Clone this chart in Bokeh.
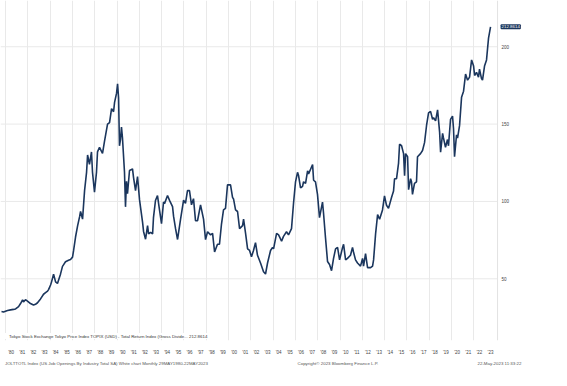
from bokeh.plotting import figure
from bokeh.layouts import column
from bokeh.models import Range1d, FixedTicker, CustomJSTickFormatter, Legend, LegendItem, Label, Span
from bokeh.core.properties import value
from bokeh.embed import file_html
from bokeh.resources import INLINE

# --- data ---
years = [1979.64, 1979.82, 1980.18, 1980.45, 1980.72, 1980.90, 1981.17, 1981.35, 1981.53, 1981.61,
         1981.79, 1981.97, 1982.24, 1982.51, 1982.69, 1982.87, 1983.14, 1983.41, 1983.59, 1983.77,
         1983.86, 1984.04, 1984.13, 1984.31, 1984.49, 1984.66, 1984.93, 1985.11, 1985.20, 1985.38,
         1985.65, 1985.83, 1986.01, 1986.10, 1986.28, 1986.46, 1986.64, 1986.73, 1986.91, 1987.09,
         1987.27, 1987.36, 1987.53, 1987.71, 1987.80, 1987.98, 1988.16, 1988.25, 1988.43, 1988.70,
         1988.88, 1989.15, 1989.33, 1989.51, 1989.69, 1989.78, 1989.96, 1990.05, 1990.14, 1990.22,
         1990.31, 1990.40, 1990.49, 1990.67, 1990.76, 1990.85, 1990.94, 1991.12, 1991.39, 1991.48,
         1991.66, 1991.84, 1992.02, 1992.29, 1992.38, 1992.56, 1992.74, 1992.83, 1993.01, 1993.19,
         1993.27, 1993.45, 1993.63, 1993.81, 1993.99, 1994.17, 1994.26, 1994.53, 1994.71, 1994.98,
         1995.07, 1995.25, 1995.43, 1995.70, 1995.97, 1996.14, 1996.32, 1996.50, 1996.68, 1996.86,
         1997.04, 1997.22, 1997.49, 1997.76, 1997.94, 1998.12, 1998.39, 1998.57, 1998.75, 1999.01,
         1999.19, 1999.37, 1999.55, 1999.73, 1999.91, 2000.18, 2000.36, 2000.45, 2000.63, 2000.81,
         2000.99, 2001.26, 2001.35, 2001.53, 2001.71, 2001.89, 2002.06, 2002.24, 2002.42, 2002.60,
         2002.87, 2003.14, 2003.32, 2003.50, 2003.77, 2003.95, 2004.04, 2004.31, 2004.49, 2004.76,
         2004.93, 2005.20, 2005.38, 2005.65, 2005.83, 2006.01, 2006.19, 2006.28, 2006.46, 2006.64,
         2006.73, 2006.91, 2007.09, 2007.18, 2007.36, 2007.54, 2007.63, 2007.80, 2007.98, 2008.16,
         2008.43, 2008.52, 2008.70, 2008.88, 2009.06, 2009.24, 2009.42, 2009.60, 2009.78, 2009.96,
         2010.23, 2010.32, 2010.50, 2010.67, 2010.94, 2011.12, 2011.21, 2011.39, 2011.57, 2011.84,
         2012.02, 2012.11, 2012.29, 2012.47, 2012.74, 2012.92, 2013.01, 2013.19, 2013.37, 2013.55,
         2013.81, 2013.99, 2014.17, 2014.35, 2014.62, 2014.80, 2014.89, 2015.07, 2015.25, 2015.34,
         2015.52, 2015.70, 2015.79, 2015.88, 2016.06, 2016.15, 2016.33, 2016.41, 2016.50, 2016.68,
         2016.86, 2016.95, 2017.22, 2017.40, 2017.58, 2017.76, 2017.94, 2018.12, 2018.30, 2018.39,
         2018.57, 2018.75, 2018.93, 2019.02, 2019.20, 2019.28, 2019.46, 2019.64, 2019.73, 2019.91,
         2020.09, 2020.18, 2020.27, 2020.45, 2020.54, 2020.72, 2020.90, 2021.08, 2021.26, 2021.44,
         2021.62, 2021.80, 2021.98, 2022.07, 2022.24, 2022.42, 2022.51, 2022.69, 2022.78, 2022.96,
         2023.14, 2023.23, 2023.32, 2023.50]

values = [28.8, 28.5, 29.5, 29.9, 30.2, 30.5, 32.0, 34.0, 36.4, 35.0,
          36.5, 35.6, 34.0, 33.0, 33.5, 34.5, 37.0, 40.0, 41.0, 42.0,
          43.0, 46.0, 48.0, 53.0, 48.0, 47.0, 53.0, 58.0, 59.0, 61.0,
          62.0, 62.5, 64.0, 68.0, 77.0, 84.0, 90.0, 93.5, 88.6, 107.0,
          119.0, 130.0, 124.0, 132.0, 119.0, 106.0, 119.0, 132.0, 135.0, 131.0,
          139.0, 150.0, 151.0, 160.0, 158.0, 164.0, 170.0, 176.0, 167.0, 136.0,
          140.0, 148.0, 141.0, 119.0, 96.5, 113.0, 105.0, 120.0, 121.0, 115.6,
          107.0, 116.0, 101.0, 86.6, 80.6, 75.6, 84.4, 79.0, 80.0, 79.0,
          89.5, 100.6, 103.8, 94.6, 85.6, 99.6, 98.6, 103.8, 100.7, 96.6,
          90.5, 82.4, 75.4, 88.6, 100.8, 98.8, 107.0, 107.0, 97.8, 101.8,
          87.5, 87.5, 97.8, 88.6, 75.3, 80.4, 78.4, 79.4, 67.3, 72.3,
          72.3, 85.4, 94.5, 95.5, 110.7, 110.7, 102.6, 101.6, 94.5, 93.5,
          82.4, 84.4, 88.6, 79.4, 69.3, 68.3, 64.2, 68.3, 73.3, 65.2,
          60.2, 54.5, 53.1, 60.2, 68.3, 70.3, 69.3, 79.4, 78.4, 74.3,
          77.4, 80.4, 78.4, 82.4, 98.8, 112.7, 118.8, 116.8, 108.7, 109.7,
          112.7, 111.7, 119.8, 117.8, 120.8, 123.8, 113.7, 112.7, 104.6, 89.5,
          99.6, 92.5, 76.4, 61.2, 59.2, 55.2, 63.2, 69.3, 70.3, 62.2,
          70.3, 72.3, 62.2, 63.2, 65.2, 70.3, 67.3, 62.2, 60.2, 58.2,
          63.2, 58.2, 66.2, 57.2, 57.2, 58.2, 62.2, 79.0, 91.5, 88.5,
          94.5, 103.6, 97.5, 95.5, 102.6, 106.7, 114.7, 114.7, 124.8, 137.0,
          136.0, 130.9, 116.7, 130.9, 128.9, 107.6, 114.7, 112.7, 104.6, 111.7,
          112.7, 128.9, 130.9, 132.9, 138.0, 149.1, 157.2, 158.2, 153.1, 154.1,
          152.1, 159.2, 145.0, 131.9, 144.0, 141.0, 135.0, 140.0, 136.0, 153.0,
          155.2, 147.0, 128.9, 143.0, 141.0, 149.0, 167.3, 171.3, 182.4, 178.4,
          180.4, 191.5, 187.5, 181.4, 183.4, 180.4, 185.5, 179.4, 178.4, 187.5,
          191.5, 198.6, 205.6, 212.86]

year_labels = list(range(1980, 2024))
grid_years = list(range(1980, 2023, 2))
y_ticks = [50, 100, 150, 200]
y_tick_labels = ["50", "100", "150", "200"]
last_value_text = "212.8614"
series_name = "Tokyo Stock Exchange Tokyo Price Index TOPIX (USD) - Total Return Index (Gross Divide... " + last_value_text
footer_texts = ["JOLTTOTL Index (US Job Openings By Industry Total SA) White chart  Monthly 29MAY1980-22MAY2023",
                "Copyright\u00a9 2023 Bloomberg Finance L.P.",
                "22-May-2023 11:33:22"]
footer_pos = [1979.95, 2006.19, 2022.33]

LINE = "#1b365d"
GRID = "#e9e9e9"
FONT = "Liberation Sans"
FS = "4.5px"

W = 551
PX_PER_YEAR = 11.15
x0 = 1979.55                 # left edge of the plotting area
x_axis_end = 2024.13         # right edge of the chart area (value axis line)
x_canvas_end = x0 + W / PX_PER_YEAR
y0, y1 = 10.1, 229.9

p = figure(width=W, height=357, output_backend="svg", toolbar_location=None,
           x_range=Range1d(x0, x_canvas_end), y_range=Range1d(y0, y1),
           min_border_left=0, min_border_top=0, min_border_right=0, min_border_bottom=10)
p.outline_line_color = None
p.background_fill_color = "white"
p.border_fill_color = "white"
p.yaxis.visible = False
p.ygrid.visible = False

# horizontal grid lines, stopping at the value axis
p.segment(x0=[x0] * len(y_ticks), y0=y_ticks, x1=[x_axis_end] * len(y_ticks), y1=y_ticks,
          line_color=GRID, line_width=1)
# value axis line at the right of the chart area
p.add_layout(Span(location=x_axis_end, dimension="height", line_color="#e2e2e2", line_width=1))

p.line(years, values, line_color=LINE, line_width=1.6)

# value-axis labels (right side)
p.text(x=[x_axis_end] * len(y_ticks), y=y_ticks, text=y_tick_labels, x_offset=4,
       text_font=value(FONT), text_font_size=FS, text_color="#444444", text_baseline="middle")

# x axis: one label per year, centred in the year
p.xaxis.ticker = FixedTicker(ticks=[y + 0.5 for y in year_labels])
p.xaxis.formatter = CustomJSTickFormatter(code="return \"'\" + String(Math.floor(tick)).slice(2);")
p.xaxis.axis_line_color = None
p.xaxis.major_tick_line_color = None
p.xaxis.minor_tick_line_color = None
p.xaxis.major_label_text_font_size = FS
p.xaxis.major_label_text_font = FONT
p.xaxis.major_label_text_color = "#444444"
p.xaxis.major_label_standoff = 3

p.xgrid.ticker = FixedTicker(ticks=grid_years)
p.xgrid.grid_line_color = GRID
p.xgrid.grid_line_width = 1

# legend (square marker)
sq = p.scatter(x=[], y=[], marker="square", size=5, fill_color=LINE, line_color=LINE)
legend = Legend(items=[LegendItem(label=series_name, renderers=[sq])],
                location=(1, 1), orientation="horizontal",
                label_text_font_size="4.4px", label_text_font=FONT, label_text_color="#333333",
                glyph_width=5, glyph_height=5, label_height=6, label_standoff=3,
                padding=1, spacing=0, margin=0,
                background_fill_color="white", background_fill_alpha=1.0,
                border_line_color=None)
p.add_layout(legend, "center")

# last value tag
p.add_layout(Label(x=x_axis_end, y=values[-1], x_offset=3, text=last_value_text,
                   text_font_size="4.4px", text_font=FONT, text_color="white",
                   text_baseline="middle", background_fill_color=LINE,
                   padding=1, border_radius=1))

# footer strip
f = figure(width=W, height=13, output_backend="svg", toolbar_location=None,
           x_range=p.x_range, y_range=Range1d(0, 1),
           min_border_left=0, min_border_top=0, min_border_right=0, min_border_bottom=0)
f.axis.visible = False
f.grid.visible = False
f.outline_line_color = None
f.text(x=footer_pos, y=[0.55] * 3, text=footer_texts, text_font=value(FONT),
       text_font_size="4.4px", text_color="#555555", text_baseline="middle")

layout = column(p, f, spacing=0)
open("out.html", "w").write(file_html(layout, INLINE))
